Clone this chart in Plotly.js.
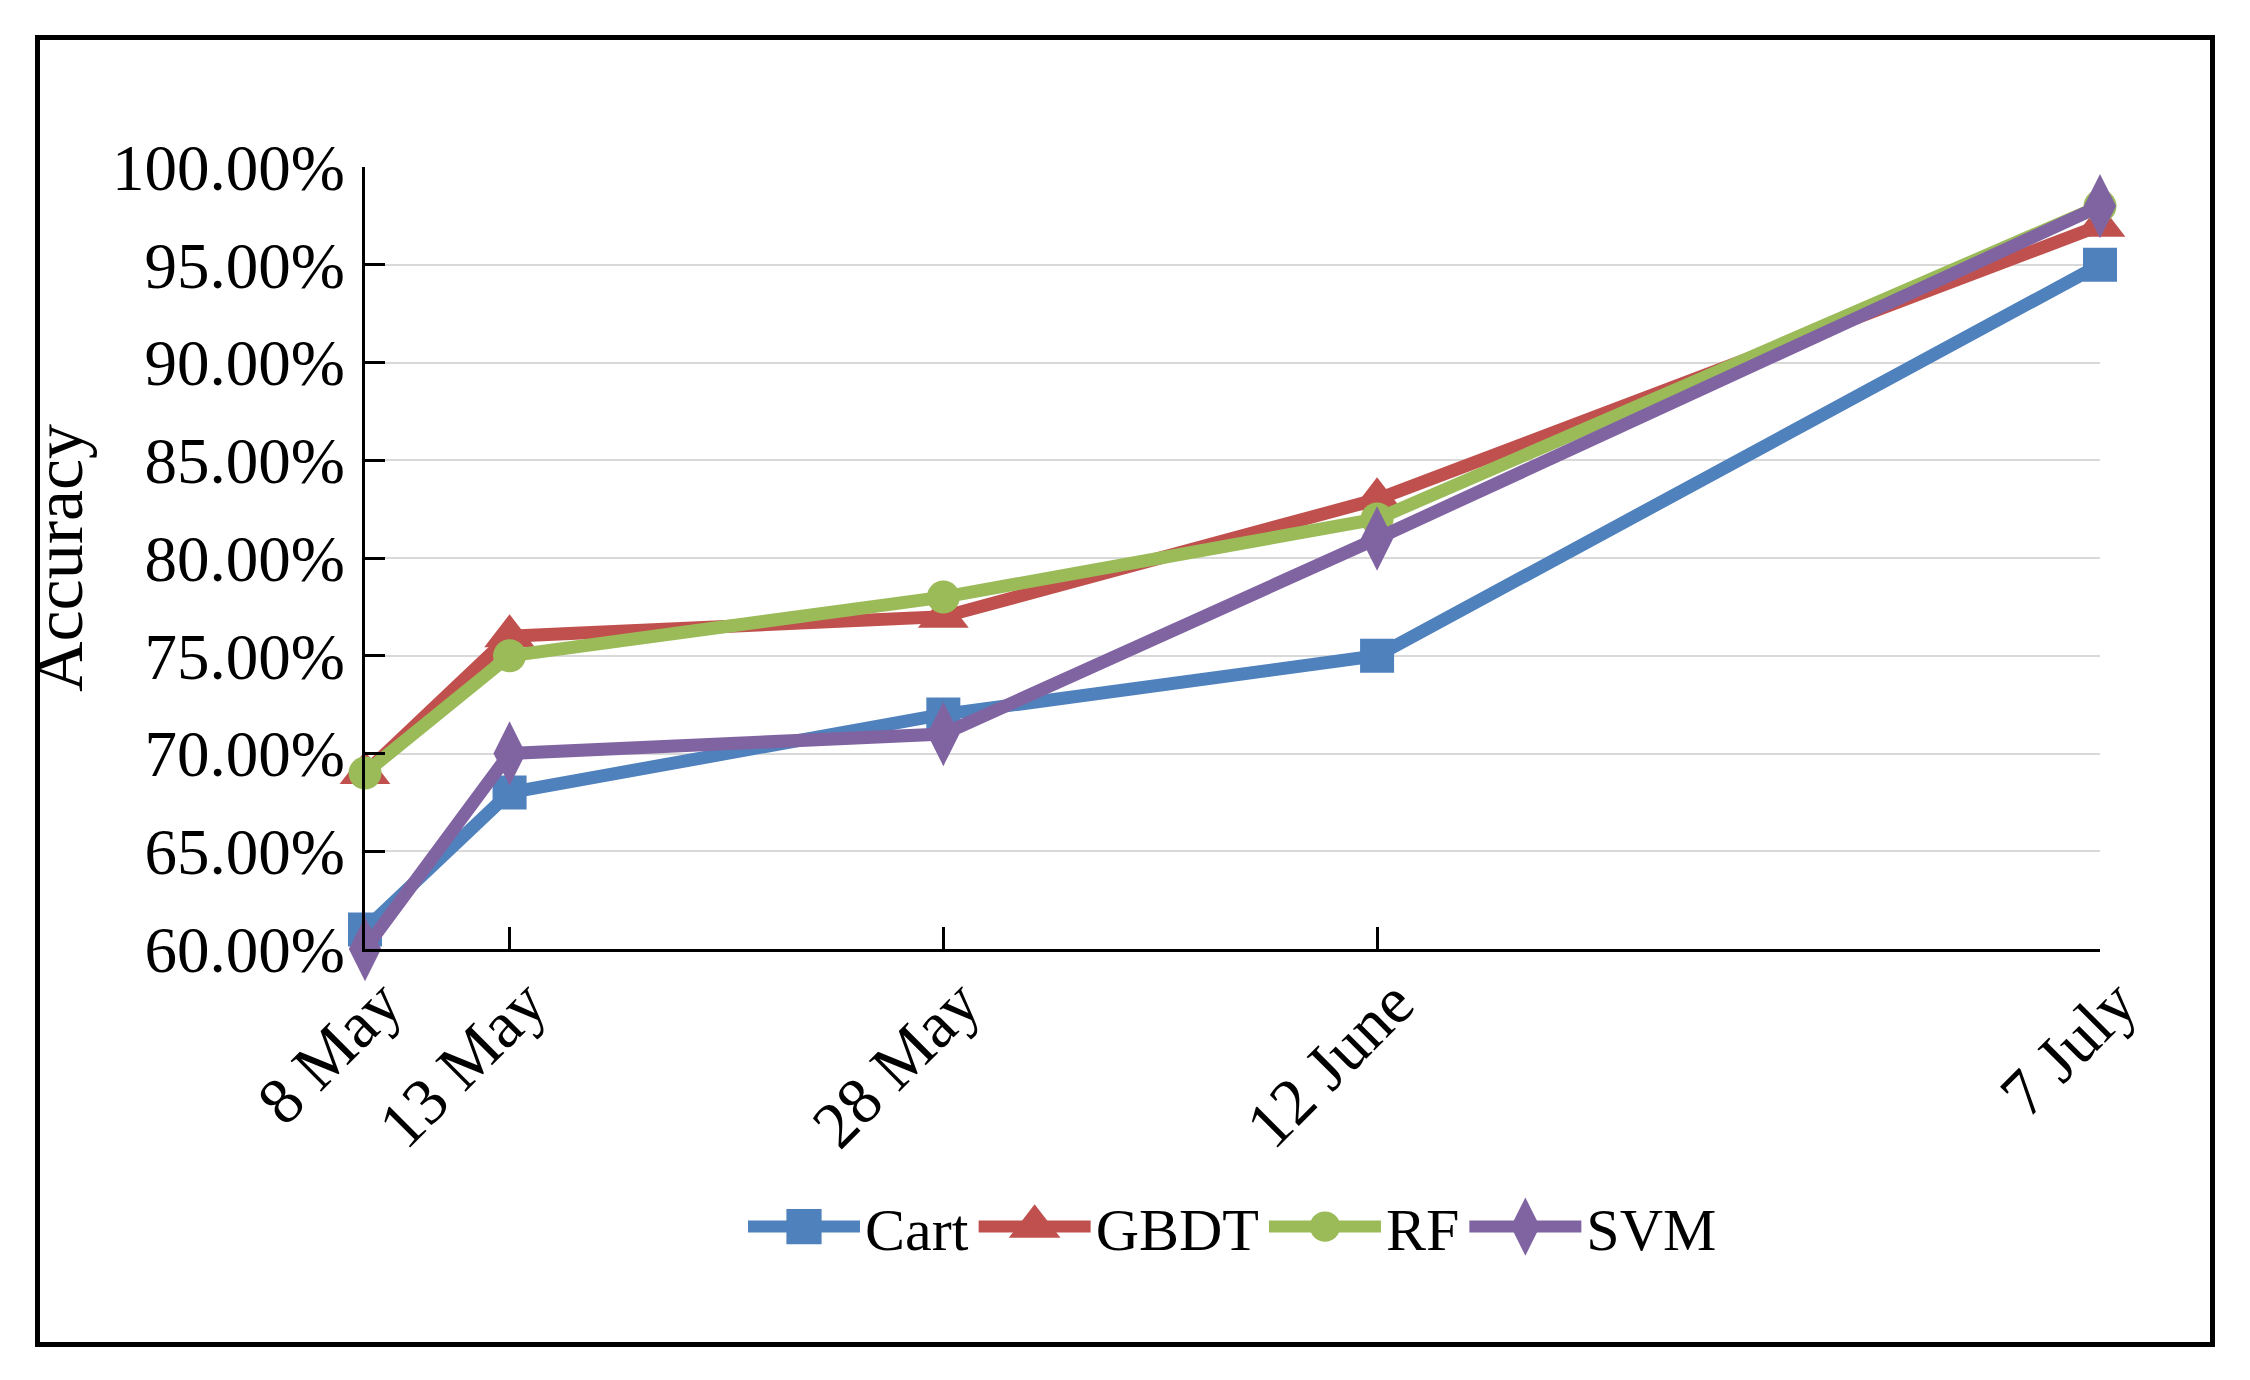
<!DOCTYPE html>
<html>
<head>
<meta charset="utf-8">
<script src="https://cdn.plot.ly/plotly-3.0.1.min.js"></script>
<style>
  html, body { margin: 0; padding: 0; background: #fff; }
  #wrap { position: relative; width: 2250px; height: 1380px; }
  #chart { width: 2250px; height: 1380px; }
  #frame { position: absolute; left: 35px; top: 35px; width: 2170px; height: 1302px;
           border: 5px solid #000; pointer-events: none; }
</style>
</head>
<body>
<div id="wrap">
  <div id="chart"></div>
  <div id="frame"></div>
</div>
<script>
// Dates of acquisition (x positions follow a real date scale)
const dates = ["2019-05-08", "2019-05-13", "2019-05-28", "2019-06-12", "2019-07-07"];
const dateLabels = ["8 May", "13 May", "28 May", "12 June", "7 July"];

// Accuracy per classifier
const cart = [0.61, 0.68, 0.72, 0.75, 0.95];
const gbdt = [0.69, 0.76, 0.77, 0.83, 0.97];
const rf   = [0.69, 0.75, 0.78, 0.82, 0.98];
const svm  = [0.60, 0.70, 0.71, 0.81, 0.98];

const seriesNames = ["Cart", "GBDT", "RF", "SVM"];

const FONT = "Liberation Serif, Times New Roman, serif";

function tr(name, y, color, symbol, size) {
  return {
    x: dates, y: y, name: name, type: "scatter", mode: "lines+markers",
    line: { color: color, width: 13 },
    marker: { color: color, symbol: symbol, size: size, line: { width: 0 } },
    cliponaxis: false
  };
}

const data = [
  tr(seriesNames[0], cart, "#4F81BD", "square", 34),
  tr(seriesNames[1], gbdt, "#C0504D", "triangle-up", 44),
  tr(seriesNames[2], rf,   "#9BBB59", "circle", 33),
  tr(seriesNames[3], svm,  "#8064A2", "diamond-tall", 46)
];

const layout = {
  width: 2250, height: 1380,
  paper_bgcolor: "#fff", plot_bgcolor: "#fff",
  margin: { l: 365, r: 150, t: 167, b: 431 },
  font: { family: FONT, size: 62, color: "#000" },
  showlegend: true,
  legend: {
    orientation: "h", x: 0.5, xanchor: "center", y: -0.355, yanchor: "middle",
    font: { family: FONT, size: 60, color: "#000" },
    itemwidth: 112, tracegroupgap: 0
  },
  xaxis: {
    type: "date",
    range: [dates[0], dates[dates.length - 1]],
    tickmode: "array", tickvals: dates, ticktext: dateLabels,
    tickangle: -45,
    ticks: "inside", ticklen: 22, tickwidth: 3, tickcolor: "#000",
    showline: true, linecolor: "#000", linewidth: 3,
    showgrid: false, zeroline: false,
    ticklabelshift: 17, ticklabelstandoff: -14,
    tickfont: { family: FONT, size: 66, color: "#000" }
  },
  yaxis: {
    range: [0.6, 1.0], dtick: 0.05, tick0: 0.6,
    tickformat: ".2%",
    ticks: "inside", ticklen: 20, tickwidth: 3, tickcolor: "#000",
    showline: true, linecolor: "#000", linewidth: 3,
    showgrid: true, gridcolor: "#d9d9d9", gridwidth: 2,
    zeroline: false,
    ticklabelstandoff: 4,
    tickfont: { family: FONT, size: 65, color: "#000" },
    title: { text: "Accuracy", font: { family: FONT, size: 70, color: "#000" }, standoff: 7 }
  }
};

Plotly.newPlot("chart", data, layout, { displayModeBar: false, staticPlot: true }).then(function (gd) {
  // Enlarge legend symbols to match the trace marker sizes (Plotly caps them at 16px)
  const scales = [2.2, 2.8, 1.9, 2.6];
  gd.querySelectorAll(".legend .traces").forEach(function (g, i) {
    g.querySelectorAll(".legendpoints path.scatterpts").forEach(function (p) {
      const t = p.getAttribute("transform") || "";
      p.setAttribute("transform", t + " scale(" + scales[i] + ")");
    });
    g.querySelectorAll(".legendlines path").forEach(function (p) {
      p.style.strokeWidth = "12px";
    });
  });
});
</script>
</body>
</html>
